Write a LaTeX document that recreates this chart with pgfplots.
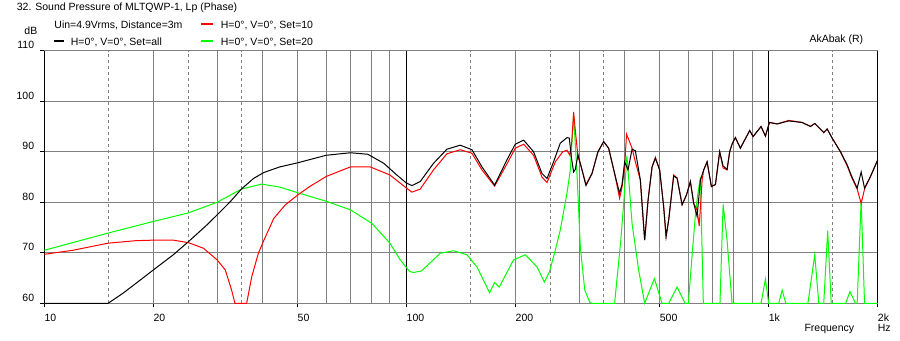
\documentclass[border=0pt]{standalone}
\usepackage{pgfplots}
\pgfplotsset{compat=1.18}
\usepackage{fontspec}
\setmainfont{Liberation Sans}
\definecolor{gridgray}{RGB}{128,128,128}
\definecolor{cgreen}{RGB}{0,255,0}
\definecolor{cred}{RGB}{255,0,0}
\begin{document}
\fontsize{10.5bp}{12bp}\selectfont
\begin{tikzpicture}[x=1bp,y=1bp]
\useasboundingbox (0,0) rectangle (900,340);
\begin{axis}[
 at={(44.3bp,36.7bp)}, anchor=south west,
 scale only axis, width=833.4bp, height=252.6bp,
 xmode=log, xmin=10, xmax=2000, ymin=60, ymax=110,
 clip=false,
 axis line style={gridgray, line width=1bp},
 xtick={10,20,50,100,200,500,1000,2000},
 xticklabels={10,20,50,100,200,500,1k,2k},
 minor xtick={30,40,60,70,80,90,300,400,600,700,800,900},
 ytick={60,70,...,110},
 grid=both,
 major grid style={gridgray, line width=1bp},
 minor grid style={gridgray, line width=1bp},
 extra x ticks={15,25,35,150,250,350,1500},
 extra x tick labels={},
 extra x tick style={grid=major, major grid style={gridgray, line width=1bp, dash pattern=on 3bp off 3bp}, major tick length=0pt},
 tick align=outside, xtick pos=bottom, ytick pos=left,
 major tick length=4bp, minor tick length=0pt,
 tick style={black, line width=1bp},
 xticklabel style={anchor=north west, inner sep=0pt, yshift=-6.5bp},
 yticklabel style={anchor=base east, inner sep=0pt, xshift=-6bp, yshift=2bp},
 /pgf/number format/assume math mode=true,
]
\draw[black, line width=1bp] (axis cs:10,60) -- (axis cs:10,110);
\draw[black, line width=1.5bp] (axis cs:100,60) -- (axis cs:100,110);
\draw[black, line width=1.5bp] (axis cs:1000,60) -- (axis cs:1000,110);
\draw[black, line width=1.5bp] (axis cs:2000,60) -- (axis cs:2000,110);
% Set=20 (green)
\addplot[cgreen, line width=1bp] coordinates {
(10,70.5)(15,73.9)(20,76.2)(25,77.9)(30,80.0)(32.6,81.4)(35,82.6)(39.8,83.6)(44.7,83.0)(50,81.9)(60,80.2)(70,78.5)(80.3,75.8)(90,71.9)(96.1,68.6)(102,66.3)(104.5,66.1)(110,66.4)(123.9,69.9)(134.9,70.4)(146.9,69.6)(156.5,67.2)(169.6,62.1)(175.1,64.1)(180.3,63.2)(197.5,68.6)(212.8,69.6)(229.3,67.2)(240.2,64.2)(248.3,66.3)(257.5,70.5)(265.8,74.5)(277.4,81.8)(283.3,86.4)(287,93)(289.3,97.3)(295.6,85.7)(301.9,71.2)(310.6,62.6)(320.6,60.2)(325,60)(375.5,60)(390.6,72.5)(398.3,80.4)(406,89.2)(419.5,75.8)(437.4,66.6)(454.5,60)(483.5,64.9)(507.4,60)(529.5,60)(558.5,63.2)(587.7,60)(600,60)(614,69.2)(627,77.2)(636,81.2)(648,85.0)(655,70)(660,60)(733.7,60)(748.5,79.6)(767.6,72.5)(792.3,60)(952.8,60)(979.3,64.8)(1000,60)(1066,60)(1089,62.6)(1115,60)(1283,60)(1340,69.6)(1375,60)(1419,60)(1455,74.4)(1488,60)(1631,60)(1676,62.3)(1737,60)(1755,60)(1800,80.5)(1839,60)(2000,60)
};
% Set=10 (red)
\addplot[cred, line width=1bp] coordinates {
(10,69.7)(12,70.5)(15,71.9)(17.9,72.4)(20,72.5)(22.7,72.5)(25,72.0)(27.5,70.9)(30,68.6)(31.6,66.6)(32.9,62.6)(33.6,60)(36.2,60)(37.4,65.3)(39,69.9)(40.4,72.5)(43,76.8)(46.3,79.5)(50,81.4)(54,83.1)(60,85.1)(70,87.0)(79.4,87.0)(90,85.4)(100,82.8)(103.5,82.0)(109.1,82.6)(118.7,86.4)(129.3,89.6)(140.7,90.4)(151.6,89.7)(161.6,86.4)(175.1,83.2)(189.4,87.6)(199.7,90.7)(210.6,91.5)(224.3,89.3)(236.6,85.0)(244.3,83.9)(257.5,88.0)(270,90.0)(277.4,90.3)(282.5,89.3)(286,92)(289.3,97.9)(292.4,94.3)(297.5,89.0)(301.9,87.7)(313,83.5)(325.2,85.7)(337.8,90.0)(350.2,92.0)(361.5,90.7)(375.5,85.7)(387.6,80.8)(393.6,83.0)(400.2,87.0)(405,93.5)(419.5,90.7)(428.4,88.0)(442.2,84.4)(454.5,72.5)(464.4,80.4)(476.4,87.0)(486.5,88.9)(500,86.4)(512.9,79.1)(520.8,73.2)(529.5,76.5)(546.6,85.4)(558.5,84.8)(576.6,79.5)(592.6,81.4)(607.8,84.1)(620.7,79.8)(634.3,78.5)(643,75.3)(655,84.4)(661.5,86.4)(676,88.0)(694.8,83.1)(712.7,83.5)(732.3,90.0)(748.2,86.8)(767.6,86.4)(780.4,90.0)(792.3,91.5)(809.1,92.8)(835.2,90.7)(886.1,94.2)(905.5,93.0)(952.8,95.0)(979.3,93.1)(1004.5,95.8)(1055,95.5)(1135.7,96.2)(1237,95.8)(1304,95.0)(1340,95.6)(1419,93.8)(1450,94.5)(1497,92.7)(1578,90.0)(1647,87.2)(1700,84.7)(1755,82.6)(1800,79.8)(1839,82.6)(1910,85.1)(2000,88.4)
};
% Set=all (black)
\addplot[black, line width=1bp] coordinates {
(10,60)(15,60)(16.5,62.0)(18.4,64.6)(20,66.6)(22.7,69.6)(25,72.2)(28.1,75.5)(30,77.5)(32.6,80.1)(35,82.6)(37.8,84.7)(40.4,85.9)(44.7,87.0)(50,87.8)(60,89.3)(70,89.8)(78.2,89.5)(86.6,87.7)(94,85.4)(100,83.8)(103.5,83.3)(109.1,84.1)(118.7,87.7)(129.3,90.5)(140.7,91.3)(151.6,90.4)(161.6,87.0)(175.1,83.4)(189.4,88.4)(199.7,91.5)(210.6,92.3)(224.3,90.0)(236.6,85.7)(244.3,84.7)(254.7,88.0)(265.8,91.7)(277.4,92.8)(281.5,92.7)(285.1,89.0)(289.3,86.0)(292.4,86.5)(297.5,89.4)(301.9,87.7)(313,83.3)(325.2,85.7)(337.8,90.0)(350.2,92.0)(361.5,90.7)(375.5,85.7)(387.6,81.8)(393.6,83.5)(400.2,88.0)(408.9,86.4)(419.5,90.5)(428.4,90.2)(442.2,84.4)(454.5,72.5)(464.4,80.4)(476.4,87.0)(486.5,88.7)(500,86.4)(512.9,79.1)(520.8,73.2)(529.5,76.5)(546.6,85.2)(558.5,84.8)(576.6,79.5)(592.6,81.4)(607.8,84.1)(620.7,79.8)(634.3,77.2)(647.8,84.4)(661.5,86.4)(676,88.0)(694.8,83.1)(712.7,83.5)(732.3,90.0)(748.2,87.2)(767.6,86.5)(780.4,90.0)(792.3,91.5)(809.1,92.8)(835.2,90.7)(886.1,94.2)(905.5,93.0)(952.8,95.0)(979.3,93.1)(1004.5,95.8)(1055,95.5)(1135.7,96.1)(1237,95.8)(1304,95.0)(1340,95.6)(1419,93.8)(1450,94.5)(1497,92.7)(1578,90.0)(1647,87.4)(1700,84.9)(1755,82.8)(1800,86.0)(1839,82.8)(1910,85.1)(2000,88.4)
};
\end{axis}
\node[anchor=base west, inner sep=0pt] at (16.7,329.3) {32. Sound Pressure of MLTQWP-1, Lp (Phase)};
\node[anchor=base west, inner sep=0pt] at (54.3,311.7) {Uin=4.9Vrms, Distance=3m};
\draw[draw=cred, line width=1.2bp] (201,316) -- (213.3,316);
\node[anchor=base west, inner sep=0pt] at (220.7,311.7) {H=0°, V=0°, Set=10};
\draw[draw=black, line width=1.2bp] (54.3,299) -- (64.3,299);
\node[anchor=base west, inner sep=0pt] at (70.7,295) {H=0°, V=0°, Set=all};
\draw[draw=cgreen, line width=1.2bp] (201,299) -- (213.3,299);
\node[anchor=base west, inner sep=0pt] at (220.7,295) {H=0°, V=0°, Set=20};
\node[anchor=base west, inner sep=0pt] at (24.3,305.7) {dB};
\node[anchor=base west, inner sep=0pt] at (809.3,298) {AkAbak (R)};
\node[anchor=base west, inner sep=0pt] at (804.3,9) {Frequency};
\node[anchor=base west, inner sep=0pt] at (877.7,9) {Hz};
\end{tikzpicture}
\end{document}
